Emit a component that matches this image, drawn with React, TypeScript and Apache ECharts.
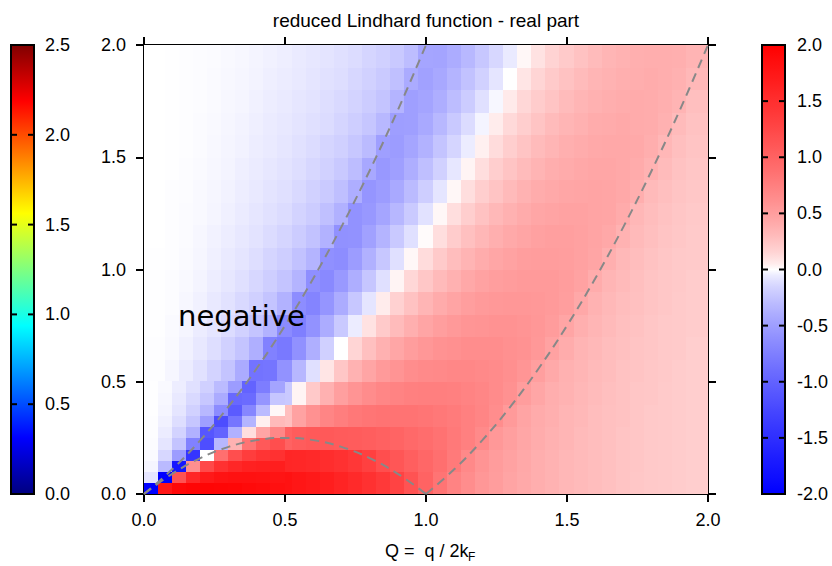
import React, { useEffect, useRef } from "react";
import * as echarts from "echarts";

// ---------- data ----------
const TITLE = "reduced Lindhard function - real part";

// sample rows of the colour map (omega, step 0.1) and sample columns (Q, step 0.05)
const omegaCenters = [0.05, 0.15, 0.25, 0.35, 0.45, 0.55, 0.65, 0.75, 0.85, 0.95, 1.05, 1.15, 1.25, 1.35, 1.45, 1.55, 1.65, 1.75, 1.85, 1.95];
const qCenters = [0.05, 0.1, 0.15, 0.2, 0.25, 0.3, 0.35, 0.4, 0.45, 0.5, 0.55, 0.6, 0.65, 0.7, 0.75, 0.8, 0.85, 0.9, 0.95, 1.0, 1.05, 1.1, 1.15, 1.2, 1.25, 1.3, 1.35, 1.4, 1.45, 1.5, 1.55, 1.6, 1.65, 1.7, 1.75, 1.8, 1.85, 1.9, 1.95];

// real part, one array per Q column, omega from 0.05 (bottom) to 1.95 (top)
const re005 = [-2.69, -0.08, -0.03, -0.014, -0.008, -0.006, -0.004, -0.003, -0.002, -0.002, -0.002, -0.001, -0.001, -0.001, -0.001, -0.001, -0.001, -0.001, 0, 0];
const re010 = [1.44, -0.42, -0.12, -0.057, -0.034, -0.023, -0.016, -0.012, -0.009, -0.007, -0.006, -0.005, -0.004, -0.004, -0.003, -0.003, -0.002, -0.002, -0.002, -0.002];
const re015 = [1.75, -1.59, -0.32, -0.14, -0.08, -0.052, -0.037, -0.027, -0.021, -0.017, -0.014, -0.011, -0.01, -0.008, -0.007, -0.006, -0.006, -0.005, -0.004, -0.004];
const re020 = [1.84, 0.37, -0.86, -0.28, -0.15, -0.097, -0.067, -0.05, -0.038, -0.03, -0.025, -0.021, -0.017, -0.015, -0.013, -0.011, -0.01, -0.009, -0.008, -0.007];
const re025 = [1.87, 1.06, -1.09, -0.56, -0.26, -0.16, -0.11, -0.08, -0.061, -0.048, -0.039, -0.033, -0.027, -0.023, -0.02, -0.018, -0.016, -0.014, -0.012, -0.011];
const re030 = [1.88, 1.33, -0.36, -1.14, -0.46, -0.25, -0.17, -0.12, -0.091, -0.072, -0.058, -0.048, -0.04, -0.034, -0.029, -0.026, -0.023, -0.02, -0.018, -0.016];
const re035 = [1.87, 1.47, 0.2, -0.76, -1.0, -0.41, -0.25, -0.17, -0.13, -0.1, -0.081, -0.067, -0.056, -0.047, -0.041, -0.035, -0.031, -0.027, -0.025, -0.022];
const re040 = [1.85, 1.54, 0.59, -0.32, -0.84, -0.85, -0.38, -0.25, -0.18, -0.14, -0.11, -0.089, -0.074, -0.063, -0.054, -0.047, -0.041, -0.036, -0.032, -0.029];
const re045 = [1.83, 1.58, 0.85, 0.02, -0.52, -0.83, -0.73, -0.36, -0.25, -0.19, -0.15, -0.12, -0.097, -0.082, -0.07, -0.06, -0.053, -0.047, -0.041, -0.037];
const re050 = [1.8, 1.59, 1.0, 0.28, -0.22, -0.59, -0.8, -0.65, -0.36, -0.25, -0.19, -0.15, -0.12, -0.1, -0.089, -0.077, -0.067, -0.058, -0.052, -0.046];
const re055 = [1.76, 1.58, 1.06, 0.47, 0.03, -0.33, -0.6, -0.75, -0.63, -0.35, -0.26, -0.2, -0.16, -0.13, -0.11, -0.095, -0.083, -0.073, -0.064, -0.057];
const re060 = [1.72, 1.56, 1.08, 0.6, 0.22, -0.1, -0.38, -0.59, -0.71, -0.62, -0.35, -0.26, -0.2, -0.17, -0.14, -0.12, -0.1, -0.089, -0.078, -0.07];
const re065 = [1.67, 1.52, 1.08, 0.7, 0.37, 0.08, -0.18, -0.4, -0.57, -0.67, -0.61, -0.36, -0.27, -0.21, -0.17, -0.15, -0.12, -0.11, -0.095, -0.084];
const re070 = [1.61, 1.47, 1.07, 0.76, 0.49, 0.24, 0.0, -0.22, -0.4, -0.54, -0.63, -0.6, -0.37, -0.28, -0.22, -0.18, -0.15, -0.13, -0.11, -0.1];
const re075 = [1.55, 1.41, 1.06, 0.81, 0.58, 0.36, 0.15, -0.05, -0.23, -0.39, -0.52, -0.59, -0.59, -0.39, -0.29, -0.23, -0.19, -0.16, -0.14, -0.12];
const re080 = [1.48, 1.32, 1.04, 0.83, 0.64, 0.45, 0.27, 0.09, -0.08, -0.24, -0.37, -0.48, -0.55, -0.57, -0.43, -0.3, -0.24, -0.2, -0.17, -0.15];
const re085 = [1.39, 1.19, 1.01, 0.85, 0.69, 0.53, 0.37, 0.21, 0.05, -0.1, -0.23, -0.35, -0.45, -0.52, -0.55, -0.49, -0.32, -0.25, -0.21, -0.18];
const re090 = [1.29, 1.11, 0.98, 0.85, 0.72, 0.58, 0.44, 0.3, 0.17, 0.03, -0.1, -0.22, -0.33, -0.42, -0.49, -0.52, -0.5, -0.35, -0.27, -0.22];
const re095 = [1.14, 1.03, 0.94, 0.85, 0.74, 0.63, 0.51, 0.38, 0.26, 0.14, 0.02, -0.1, -0.21, -0.3, -0.39, -0.45, -0.49, -0.49, -0.41, -0.29];
const re100 = [0.99, 0.96, 0.9, 0.83, 0.75, 0.66, 0.56, 0.45, 0.34, 0.23, 0.12, 0.01, -0.09, -0.19, -0.28, -0.36, -0.42, -0.46, -0.48, -0.45];
const re105 = [0.84, 0.88, 0.86, 0.81, 0.75, 0.67, 0.59, 0.5, 0.41, 0.31, 0.21, 0.11, 0.02, -0.08, -0.17, -0.25, -0.32, -0.39, -0.43, -0.46];
const re110 = [0.72, 0.79, 0.8, 0.78, 0.74, 0.68, 0.61, 0.54, 0.46, 0.37, 0.29, 0.2, 0.11, 0.02, -0.07, -0.15, -0.22, -0.29, -0.35, -0.4];
const re115 = [0.63, 0.67, 0.74, 0.74, 0.72, 0.68, 0.63, 0.57, 0.5, 0.43, 0.35, 0.27, 0.19, 0.11, 0.03, -0.05, -0.12, -0.2, -0.26, -0.32];
const re120 = [0.56, 0.58, 0.66, 0.7, 0.69, 0.67, 0.63, 0.58, 0.53, 0.47, 0.4, 0.33, 0.26, 0.19, 0.11, 0.04, -0.03, -0.1, -0.17, -0.23];
const re125 = [0.51, 0.52, 0.55, 0.63, 0.65, 0.65, 0.63, 0.59, 0.55, 0.5, 0.44, 0.38, 0.32, 0.25, 0.19, 0.12, 0.05, -0.02, -0.08, -0.14];
const re130 = [0.46, 0.47, 0.49, 0.53, 0.6, 0.62, 0.61, 0.59, 0.56, 0.52, 0.47, 0.42, 0.37, 0.31, 0.25, 0.19, 0.13, 0.06, 0.0, -0.06];
const re135 = [0.42, 0.43, 0.44, 0.46, 0.51, 0.57, 0.59, 0.58, 0.56, 0.53, 0.5, 0.45, 0.41, 0.36, 0.3, 0.25, 0.19, 0.14, 0.08, 0.02];
const re140 = [0.39, 0.39, 0.4, 0.41, 0.44, 0.49, 0.55, 0.56, 0.55, 0.53, 0.51, 0.48, 0.44, 0.4, 0.35, 0.3, 0.25, 0.2, 0.15, 0.09];
const re145 = [0.36, 0.36, 0.37, 0.38, 0.39, 0.42, 0.47, 0.52, 0.53, 0.53, 0.51, 0.49, 0.46, 0.42, 0.39, 0.34, 0.3, 0.25, 0.21, 0.16];
const re150 = [0.33, 0.33, 0.34, 0.34, 0.36, 0.37, 0.4, 0.45, 0.5, 0.51, 0.5, 0.49, 0.47, 0.44, 0.41, 0.38, 0.34, 0.3, 0.26, 0.21];
const re155 = [0.31, 0.31, 0.31, 0.32, 0.33, 0.34, 0.35, 0.38, 0.43, 0.47, 0.48, 0.48, 0.47, 0.45, 0.43, 0.4, 0.37, 0.34, 0.3, 0.26];
const re160 = [0.29, 0.29, 0.29, 0.29, 0.3, 0.31, 0.32, 0.34, 0.36, 0.4, 0.45, 0.46, 0.46, 0.46, 0.44, 0.42, 0.4, 0.37, 0.34, 0.3];
const re165 = [0.27, 0.27, 0.27, 0.27, 0.28, 0.29, 0.29, 0.31, 0.32, 0.34, 0.38, 0.43, 0.45, 0.45, 0.44, 0.43, 0.41, 0.39, 0.36, 0.34];
const re170 = [0.25, 0.25, 0.25, 0.26, 0.26, 0.26, 0.27, 0.28, 0.29, 0.31, 0.32, 0.36, 0.41, 0.43, 0.43, 0.43, 0.42, 0.4, 0.38, 0.36];
const re175 = [0.23, 0.24, 0.24, 0.24, 0.24, 0.25, 0.25, 0.26, 0.27, 0.28, 0.29, 0.31, 0.33, 0.39, 0.41, 0.42, 0.41, 0.41, 0.39, 0.38];
const re180 = [0.22, 0.22, 0.22, 0.22, 0.23, 0.23, 0.24, 0.24, 0.25, 0.25, 0.26, 0.28, 0.29, 0.31, 0.36, 0.39, 0.4, 0.4, 0.4, 0.39];
const re185 = [0.21, 0.21, 0.21, 0.21, 0.21, 0.22, 0.22, 0.22, 0.23, 0.23, 0.24, 0.25, 0.26, 0.28, 0.3, 0.33, 0.37, 0.38, 0.39, 0.39];
const re190 = [0.2, 0.2, 0.2, 0.2, 0.2, 0.2, 0.21, 0.21, 0.21, 0.22, 0.22, 0.23, 0.24, 0.25, 0.26, 0.28, 0.3, 0.35, 0.37, 0.38];
const re195 = [0.19, 0.19, 0.19, 0.19, 0.19, 0.19, 0.19, 0.2, 0.2, 0.2, 0.21, 0.21, 0.22, 0.23, 0.24, 0.25, 0.26, 0.28, 0.32, 0.35];

const columns = [re005, re010, re015, re020, re025, re030, re035, re040, re045, re050, re055, re060, re065, re070, re075, re080, re085, re090, re095, re100,
  re105, re110, re115, re120, re125, re130, re135, re140, re145, re150, re155, re160, re165, re170, re175, re180, re185, re190, re195];

// finer cells near the origin (step 0.05, Q and omega from 0 to 0.5)
const fineQCenters = [0.025, 0.075, 0.125, 0.175, 0.225, 0.275, 0.325, 0.375, 0.425, 0.475];
const fineOmegaCenters = [0.025, 0.075, 0.125, 0.175, 0.225, 0.275, 0.325, 0.375, 0.425, 0.475];
const fine0025 = [-3.38, -0.079, -0.027, -0.014, -0.008, -0.006, -0.004, -0.003, -0.002, -0.002];
const fine0075 = [1.76, -2.28, -0.31, -0.14, -0.08, -0.052, -0.037, -0.027, -0.021, -0.017];
const fine0125 = [1.91, 1.14, -1.77, -0.52, -0.25, -0.16, -0.11, -0.08, -0.061, -0.048];
const fine0175 = [1.94, 1.58, 0.62, -1.43, -0.73, -0.37, -0.24, -0.17, -0.13, -0.1];
const fine0225 = [1.94, 1.72, 1.23, 0.0, -1.19, -1.11, -0.49, -0.32, -0.23, -0.18];
const fine0275 = [1.93, 1.79, 1.47, 0.88, -0.33, -0.99, -1.2, -0.64, -0.41, -0.3];
const fine0325 = [1.92, 1.81, 1.58, 1.19, 0.36, -0.37, -0.83, -1.07, -0.95, -0.52];
const fine0375 = [1.89, 1.81, 1.64, 1.35, 0.85, 0.11, -0.35, -0.69, -0.92, -0.99];
const fine0425 = [1.87, 1.8, 1.66, 1.44, 1.08, 0.45, 0.04, -0.3, -0.57, -0.77];
const fine0475 = [1.83, 1.78, 1.67, 1.48, 1.19, 0.68, 0.31, 0.02, -0.24, -0.46];
const fineColumns = [fine0025, fine0075, fine0125, fine0175, fine0225, fine0275, fine0325, fine0375, fine0425, fine0475];

// dashed boundary curves
const upperQ = [0, 0.1, 0.2, 0.3, 0.4, 0.5, 0.6, 0.7, 0.8, 0.9, 1.0];
const upperOmega = [0, 0.11, 0.24, 0.39, 0.56, 0.75, 0.96, 1.19, 1.44, 1.71, 2.0];
const arcQ = [0, 0.1, 0.2, 0.3, 0.4, 0.5, 0.6, 0.7, 0.8, 0.9, 1.0];
const arcOmega = [0, 0.09, 0.16, 0.21, 0.24, 0.25, 0.24, 0.21, 0.16, 0.09, 0];
const rightQ = [1.0, 1.1, 1.2, 1.3, 1.4, 1.5, 1.6, 1.7, 1.8, 1.9, 2.0];
const rightOmega = [0, 0.11, 0.24, 0.39, 0.56, 0.75, 0.96, 1.19, 1.44, 1.71, 2.0];

// tick labels
const axisTickValues = [0, 0.5, 1.0, 1.5, 2.0];
const realBarTicks = [-2, -1.5, -1, -0.5, 0, 0.5, 1, 1.5, 2];
const imagBarTicks = [0, 0.5, 1, 1.5, 2, 2.5];

// ---------- styling helpers ----------
const AX_MIN = 0, AX_MAX = 2;
const FONT = '"Liberation Sans", Arial, Helvetica, sans-serif';
const GAMMA = 0.7;
function rwb(v: number): string {
  const t = Math.max(-1, Math.min(1, v / 2));
  const f = Math.pow(Math.abs(t), GAMMA);
  const c = Math.round(255 * (1 - f));
  return t >= 0 ? `rgb(255,${c},${c})` : `rgb(${c},${c},255)`;
}
const rwbStops: string[] = [];
for (let i = 0; i <= 80; i++) rwbStops.push(rwb(-2 + i * 0.05));

const jetStops = [
  { offset: 0, color: "#800000" },
  { offset: 0.125, color: "#ff0000" },
  { offset: 0.375, color: "#ffff00" },
  { offset: 0.625, color: "#00ffff" },
  { offset: 0.875, color: "#0000ff" },
  { offset: 1, color: "#000080" },
];

const PLOT_L = 144, PLOT_R = 708, PLOT_T = 45, PLOT_B = 494;

function colorBar(x: number, w: number, ticks: number[], fill: any, labelX: number): any[] {
  const els: any[] = [];
  const min = ticks[0], max = ticks[ticks.length - 1];
  const h = PLOT_B - PLOT_T;
  els.push({ type: "rect", shape: { x, y: PLOT_T, width: w, height: h }, style: { fill, stroke: "#000", lineWidth: 2 }, z: 20 });
  ticks.forEach((v) => {
    const y = PLOT_T + ((max - v) / (max - min)) * h;
    if (v !== min && v !== max) {
      els.push({ type: "line", shape: { x1: x, y1: y, x2: x + 6, y2: y }, style: { stroke: "#000", lineWidth: 2 }, z: 21 });
      els.push({ type: "line", shape: { x1: x + w - 6, y1: y, x2: x + w, y2: y }, style: { stroke: "#000", lineWidth: 2 }, z: 21 });
    }
    els.push({
      type: "text", x: labelX, y, z: 21,
      style: { text: v.toFixed(1), fontSize: 18, fontFamily: FONT, fill: "#000", textAlign: "left", textVerticalAlign: "middle" },
    });
  });
  return els;
}

// each sample is drawn as the area nearest to it (bounded by midpoints to its neighbours, clipped to the axes)
function bounds(centers: number[]): number[][] {
  return centers.map((c, i) => [
    i === 0 ? Math.max(AX_MIN, c - (centers[1] - c) / 2) : (centers[i - 1] + c) / 2,
    i === centers.length - 1 ? Math.min(AX_MAX, c + (c - centers[i - 1]) / 2) : (c + centers[i + 1]) / 2,
  ]);
}

function cellSeries(qs: number[], ws: number[], cols: number[][], z: number, stretchQ: boolean): any {
  const data: number[][] = [];
  cols.forEach((col, i) => col.forEach((v, j) => data.push([qs[i], ws[j], v, i, j])));
  const qb = bounds(qs);
  if (stretchQ) { qb[0][0] = AX_MIN; qb[qb.length - 1][1] = AX_MAX; }
  const wb = bounds(ws);
  return {
    type: "custom",
    xAxisIndex: 0, yAxisIndex: 0,
    data,
    dimensions: ["Q", "omega", "re", "qi", "wi"],
    encode: { x: 0, y: 1 },
    silent: true,
    z,
    renderItem: (params: any, api: any) => {
      const i = api.value(3), j = api.value(4);
      const p1 = api.coord([qb[i][0], wb[j][1]]);
      const p2 = api.coord([qb[i][1], wb[j][0]]);
      const x0 = Math.floor(p1[0]), y0 = Math.floor(p1[1]);
      const x1 = Math.ceil(p2[0]), y1 = Math.ceil(p2[1]);
      return {
        type: "rect",
        shape: { x: x0, y: y0, width: x1 - x0, height: y1 - y0 },
        style: { fill: api.visual("color") },
      };
    },
  };
}

export default function App() {
  const ref = useRef<HTMLDivElement>(null);
  useEffect(() => {
    if (!ref.current) return;
    const chart = echarts.init(ref.current, null, { renderer: "svg" });

    const n = rwbStops.length - 1;
    const rbStops = rwbStops.map((_, i) => ({ offset: i / n, color: rwbStops[n - i] }));

    const graphics: any[] = [
      {
        type: "text", x: 426, y: 20, z: 20,
        style: { text: TITLE, fontSize: 19, fontFamily: FONT, fill: "#000", textAlign: "center", textVerticalAlign: "middle" },
      },
      {
        type: "text", x: 385, y: 551, z: 20,
        style: { text: "Q =  q / 2k", fontSize: 18, fontFamily: FONT, fill: "#000", textAlign: "left", textVerticalAlign: "middle" },
      },
      {
        type: "text", x: 468, y: 557, z: 20,
        style: { text: "F", fontSize: 12, fontFamily: FONT, fill: "#000", textAlign: "left", textVerticalAlign: "middle" },
      },
      {
        type: "text", x: 178, y: 316, z: 20,
        style: { text: "negative", fontSize: 29, fontFamily: '"DejaVu Sans", sans-serif', fill: "#000", textAlign: "left", textVerticalAlign: "middle" },
      },
      ...colorBar(762, 23, realBarTicks, { type: "linear", x: 0, y: 0, x2: 0, y2: 1, colorStops: rbStops }, 797),
      ...colorBar(11, 23, imagBarTicks, { type: "linear", x: 0, y: 0, x2: 0, y2: 1, colorStops: jetStops }, 45),
    ];

    const axisCommon = {
      type: "value", min: AX_MIN, max: AX_MAX, interval: 0.5,
      axisLine: { onZero: false, lineStyle: { color: "#000", width: 2 } },
      axisTick: { show: true, inside: false, length: 8, lineStyle: { color: "#000", width: 2 } },
      splitLine: { show: false },
    };
    const labelStyle = {
      fontSize: 18, fontFamily: FONT, color: "#000",
      formatter: (v: number) => (axisTickValues.includes(v) ? v.toFixed(1) : ""),
    };

    const lineStyle = { color: "#888888", width: 2, type: [9, 6] as any };

    const option: any = {
      animation: false,
      backgroundColor: "#ffffff",
      grid: { left: PLOT_L, right: 832 - PLOT_R, top: PLOT_T, bottom: 566 - PLOT_B, containLabel: false },
      xAxis: [
        { ...axisCommon, position: "bottom", axisLabel: { ...labelStyle, margin: 17 } },
        { ...axisCommon, position: "top", axisLabel: { show: false } },
      ],
      yAxis: [
        { ...axisCommon, position: "left", axisLabel: { ...labelStyle, margin: 18 } },
        { ...axisCommon, position: "right", axisLabel: { show: false } },
      ],
      visualMap: {
        type: "continuous", show: false, min: -2, max: 2, dimension: 2, seriesIndex: [0, 1],
        inRange: { color: rwbStops },
      },
      graphic: graphics,
      series: [
        cellSeries(qCenters, omegaCenters, columns, 1, true),
        cellSeries(fineQCenters, fineOmegaCenters, fineColumns, 2, false),
        { type: "line", data: upperQ.map((q, i) => [q, upperOmega[i]]), smooth: 0.4, showSymbol: false, lineStyle, z: 5, silent: true },
        { type: "line", data: arcQ.map((q, i) => [q, arcOmega[i]]), smooth: 0.4, showSymbol: false, lineStyle, z: 5, silent: true },
        { type: "line", data: rightQ.map((q, i) => [q, rightOmega[i]]), smooth: 0.4, showSymbol: false, lineStyle, z: 5, silent: true },
      ],
    };
    chart.setOption(option);
    return () => chart.dispose();
  }, []);
  return <div ref={ref} style={{ position: "absolute", left: 0, top: 0, width: 832, height: 566, background: "#fff" }} />;
}
